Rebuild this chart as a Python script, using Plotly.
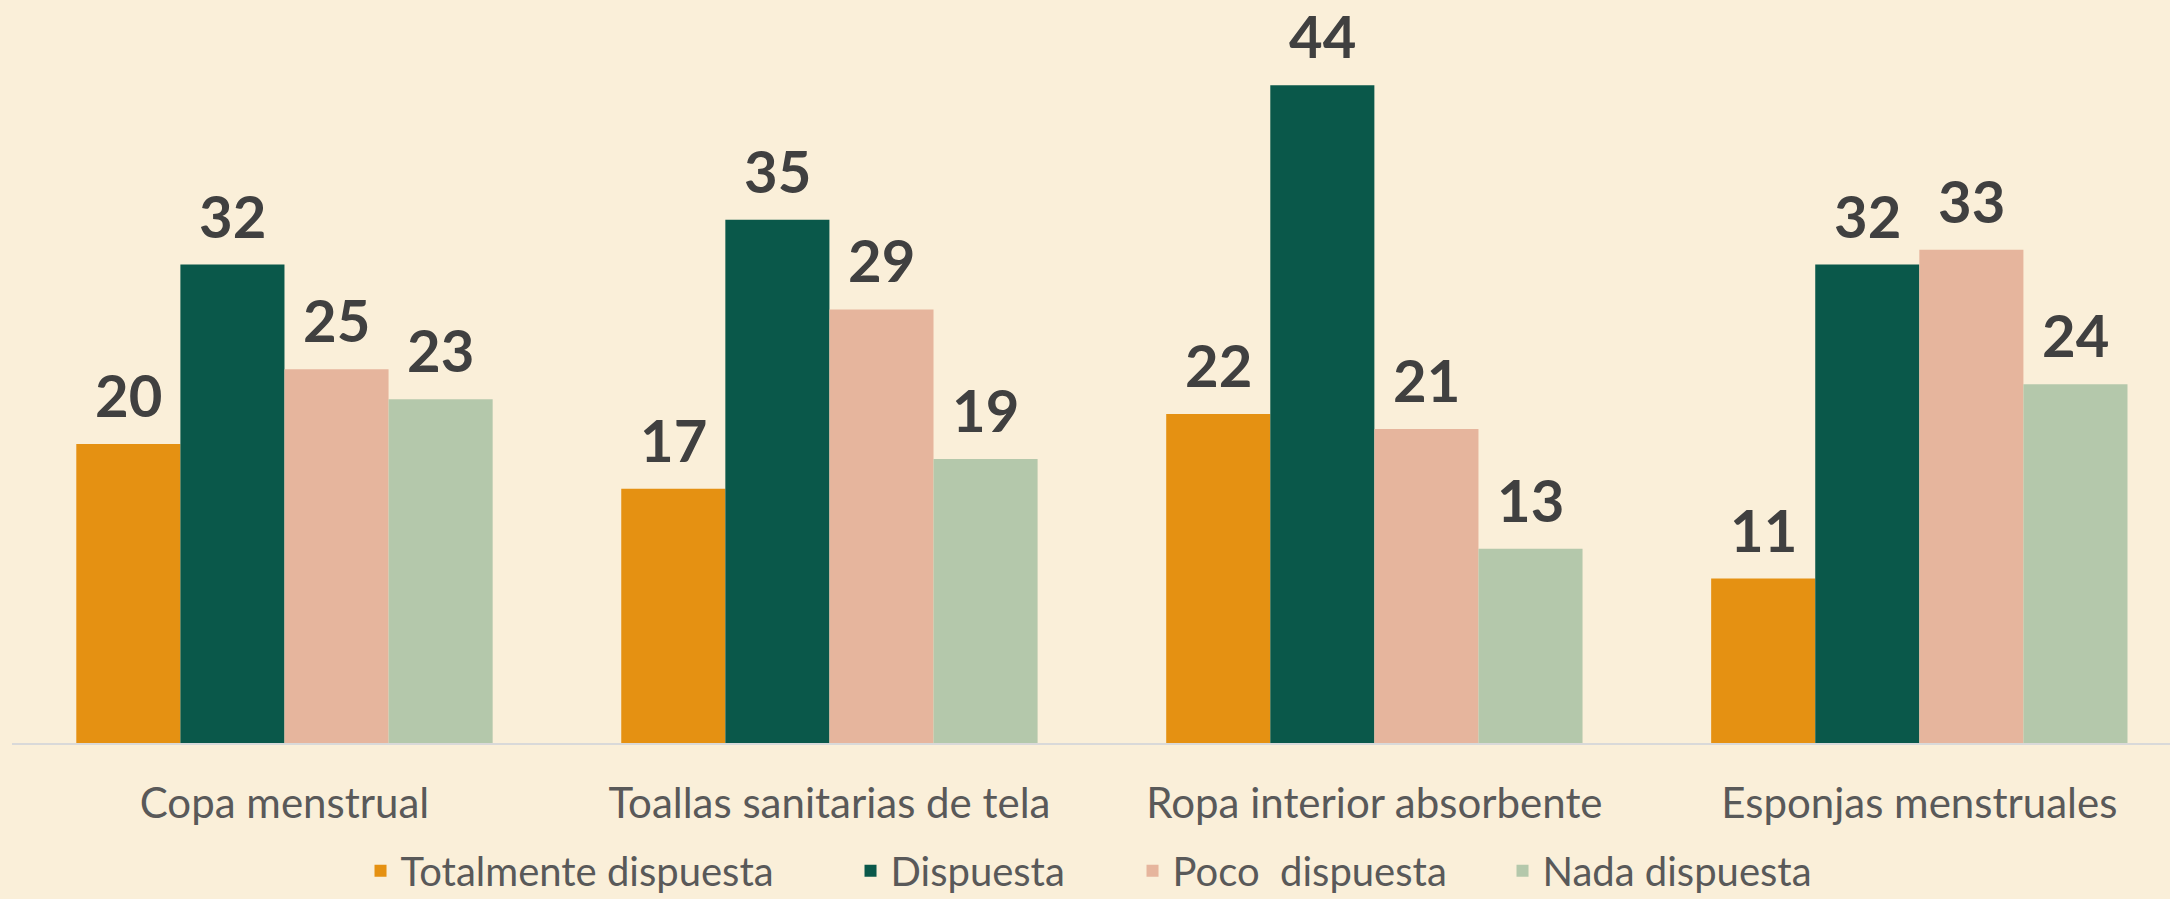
import plotly.graph_objects as go

categories = ["Copa menstrual", "Toallas sanitarias de tela", "Ropa interior absorbente", "Esponjas menstruales"]
series_names = ["Totalmente dispuesta", "Dispuesta", "Poco  dispuesta", "Nada dispuesta"]
totalmente = [20, 17, 22, 11]
dispuesta = [32, 35, 44, 32]
poco = [25, 29, 21, 33]
nada = [23, 19, 13, 24]
series_values = [totalmente, dispuesta, poco, nada]
colors = ["#E59112", "#0A584A", "#E6B59D", "#B4C8AB"]
legend_widths = [445, 237, 325, 300]

BG = "#FAEFD9"
bargap = 0.236
w = (1 - bargap) / len(series_values)

fig = go.Figure()
for name, vals, col, lw in zip(series_names, series_values, colors, legend_widths):
    fig.add_trace(go.Bar(x=categories, y=vals, name=name, legendwidth=lw,
                         marker=dict(color=col, line=dict(width=0))))

annotations = []
for j, vals in enumerate(series_values):
    off = (j - (len(series_values) - 1) / 2) * w
    for i, v in enumerate(vals):
        annotations.append(dict(
            x=i + off, y=v, xref="x", yref="y", text=f"<b>{v}</b>", showarrow=False,
            yanchor="bottom", xanchor="center", yshift=14, borderpad=0,
            font=dict(family="Lato", size=58, color="#404040"),
        ))

fig.update_layout(
    width=2170, height=899,
    paper_bgcolor=BG, plot_bgcolor=BG,
    barmode="group", bargap=bargap, bargroupgap=0,
    margin=dict(l=12, r=0, t=0, b=156, autoexpand=False),
    showlegend=True,
    legend=dict(orientation="h", x=0.1615, xanchor="left", y=-0.172, yanchor="middle",
                font=dict(family="Lato", size=40, color="#595959"), bgcolor="rgba(0,0,0,0)",
                itemwidth=30),
    annotations=annotations,
)
fig.update_xaxes(range=[-0.5, 3.46], showline=True, linecolor="#D9D9D9", linewidth=2,
                 ticks="", ticklabelstandoff=23,
                 tickfont=dict(family="Lato", size=42, color="#595959"), showgrid=False, zeroline=False)
fig.update_yaxes(range=[0, 49.7], visible=False, showgrid=False, zeroline=False)

fig.write_html("out.html", config={"displayModeBar": False},
               post_script="document.body.style.margin='0';document.body.style.background='%s';" % BG)
